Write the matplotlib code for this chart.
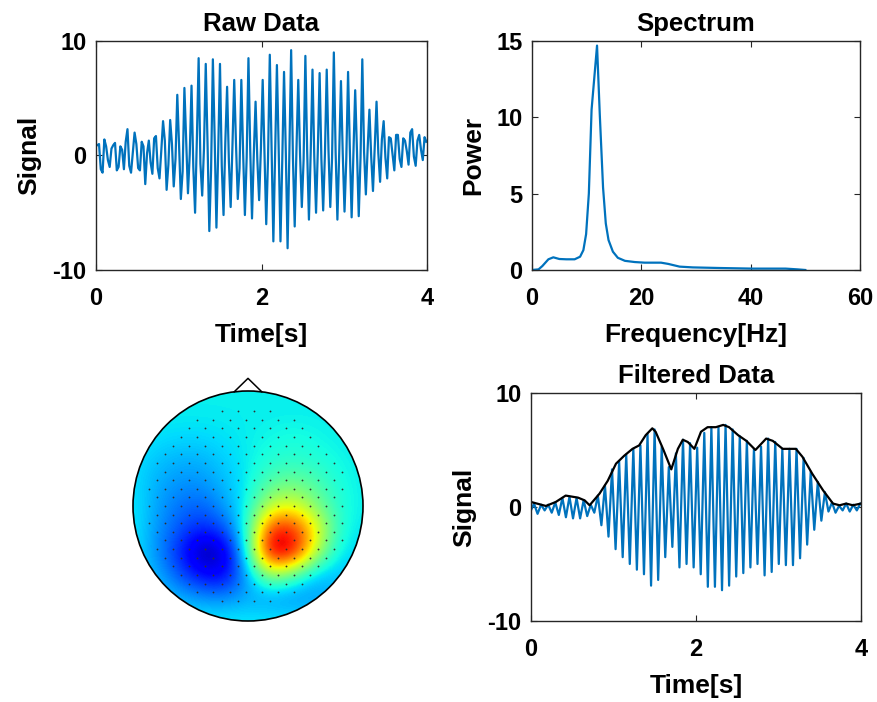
import numpy as np
import matplotlib
matplotlib.use("Agg")
import matplotlib.pyplot as plt
from matplotlib.patches import Circle

plt.rcParams['font.family'] = ['Liberation Sans', 'DejaVu Sans']
plt.rcParams['font.weight'] = 'bold'
plt.rcParams['axes.unicode_minus'] = False

BLUE = '#0072BD'
EDGE = '#262626'

# ---- raw data: samples every 0.0215 s (mid, peak, mid, trough, ...)
raw_t0 = 0.0145
raw_dt = 0.0215
raw_peaks = [1.0, 0.8, 0.9, 0.8, 2.3, 2.0, 1.2, 1.3, 1.7, 3.0, 3.1, 5.3, 5.9, 6.1,
             8.5, 8.0, 8.4, 8.0, 6.0, 6.6, 6.6, 8.5, 4.7, 6.6, 8.8, 7.9, 7.3, 9.2,
             6.6, 8.7, 7.5, 7.2, 7.5, 9.0, 6.5, 7.3, 5.7, 8.4, 4.0, 4.7, 3.0, 1.5,
             1.8, 1.3, 2.3, 1.8, 1.2]
raw_troughs = [-1.5, -1.0, -1.3, -1.2, -1.5, -1.1, -2.5, -1.6, -2.0, -3.0, -2.7,
               -3.8, -3.3, -5.0, -3.5, -6.6, -6.3, -5.2, -4.5, -3.8, -5.2, -5.5,
               -3.9, -6.0, -7.5, -7.5, -8.1, -6.2, -4.5, -5.6, -5.0, -4.8, -4.5,
               -5.6, -4.9, -5.4, -5.3, -3.4, -3.1, -2.3, -2.0, -1.3, -1.0, -0.8,
               -0.9, -0.4]
raw_mids = [0.9, -1.2, 1.4, -0.4, 0.6, 1.1, -1.0, 0.5, 1.2, -0.9, 0.3, 1.0, -1.3,
            0.8, 0.2, -0.6, 1.5, -1.1, 0.4, 1.3, -0.8, 1.0,
            -0.3, 0.9, -1.4, 1.2, 0.1, -1.0, 1.4, -0.7, 0.6, 1.1, -1.2, 1.6, 0.3,
            -0.9, 1.2, -0.5, 0.8, 1.0, -1.1,
            0.3, -0.2, 0.5, 0.1, -0.4, 0.6, 0.2, -0.3, 0.4, 0.0, 0.5, -0.5, 0.3,
            0.2, -0.2, 0.6, 0.1, -0.4, 0.4, 0.3, -0.1, 0.5, -0.3, 0.2, 0.4, -0.2,
            0.3, 0.1,
            0.2, -0.3, 0.5, 0.0, 0.4, -0.2, 0.3, 0.6, -0.1, 0.8, 0.2,
            1.4, -0.2, 1.6, 0.1, 1.8, -0.3, 1.5, 0.4, 2.0, -0.1, 1.3, 0.5, 1.6]

# ---- spectrum
spec_f = [0, 1.2, 1.9, 3.0, 3.9, 5.0, 6.3, 7.8, 8.8, 9.4, 9.9, 10.4, 10.9, 11.4,
          11.9, 12.4, 13.0, 13.5, 14.0, 14.8, 15.7, 17.0, 18.8, 20.6, 23.6, 24.9,
          27.0, 29.4, 34.3, 40.4, 46.4, 48.6, 50]
spec_p = [0, 0.04, 0.26, 0.7, 0.83, 0.72, 0.7, 0.7, 0.87, 1.3, 2.35, 5.0, 10.5,
          12.6, 14.7, 10.2, 5.4, 3.05, 1.96, 1.2, 0.8, 0.6, 0.52, 0.48, 0.48, 0.4,
          0.22, 0.17, 0.13, 0.09, 0.09, 0.04, 0]

# ---- filtered data: samples every 0.043 s (start, peak, trough, peak, ...)
filt_t0 = -0.007
filt_dt = 0.043
filt_start = -0.4
filt_peaks = [0.3, 0.2, 0.2, 0.4, 0.8, 0.9, 0.8, 0.6, 0.2, 1.0, 1.9, 3.3, 4.0, 4.6,
              5.1, 5.4, 6.4, 6.8, 5.3, 3.5, 4.7, 5.9, 5.6, 5.2, 6.5, 7.0, 7.0, 7.2,
              6.8, 6.2, 5.8, 5.1, 5.3, 6.0, 5.7, 5.1, 5.1, 5.1, 4.3, 3.1, 2.2, 1.3,
              0.4, 0.1, 0.3, 0.2, 0.3]
filt_troughs = [-0.6, -0.3, -0.5, -0.7, -0.9, -1.0, -1.0, -0.8, -0.5, -1.6, -2.6,
                -3.7, -4.4, -5.0, -5.5, -5.9, -6.9, -6.4, -4.4, -3.5, -5.3, -5.0,
                -5.3, -5.9, -7.0, -7.0, -7.3, -6.9, -6.1, -5.8, -5.3, -5.0, -6.0,
                -5.7, -5.0, -5.1, -5.1, -4.5, -3.3, -2.0, -1.2, -0.4, -0.5, -0.3,
                -0.4, -0.3]
env_t = [0, 0.18, 0.30, 0.42, 0.57, 0.65, 0.71, 0.83, 0.93, 1.03, 1.13, 1.23, 1.31,
         1.39, 1.47, 1.51, 1.60, 1.70, 1.78, 1.84, 1.90, 1.98, 2.06, 2.14, 2.24,
         2.33, 2.40, 2.51, 2.61, 2.72, 2.85, 2.93, 3.05, 3.21, 3.29, 3.41, 3.54,
         3.66, 3.74, 3.82, 3.90, 4.0]
env_v = [0.44, 0.09, 0.44, 1.0, 0.82, 0.58, 0.15, 1.17, 2.3, 3.8, 4.5, 5.1, 5.4,
         6.3, 6.9, 6.6, 5.1, 3.3, 5.1, 5.9, 5.7, 5.1, 6.6, 7.0, 7.0, 7.2, 7.0, 6.3,
         5.8, 5.0, 6.0, 5.8, 5.1, 5.1, 4.4, 2.9, 1.46, 0.3, 0.15, 0.3, 0.15, 0.3]

# ---- scalp map, normalised jet values on an 11x11 grid (x, y = -1..1, top row y=1)
topo = [
    [0.36, 0.36, 0.36, 0.36, 0.36, 0.36, 0.36, 0.36, 0.36, 0.36, 0.36],
    [0.36, 0.36, 0.36, 0.36, 0.36, 0.36, 0.36, 0.36, 0.36, 0.36, 0.36],
    [0.36, 0.35, 0.34, 0.34, 0.35, 0.36, 0.37, 0.38, 0.37, 0.36, 0.36],
    [0.35, 0.32, 0.30, 0.30, 0.33, 0.36, 0.39, 0.40, 0.39, 0.37, 0.36],
    [0.35, 0.30, 0.27, 0.27, 0.31, 0.36, 0.45, 0.48, 0.44, 0.38, 0.36],
    [0.36, 0.29, 0.24, 0.22, 0.28, 0.37, 0.58, 0.62, 0.50, 0.39, 0.36],
    [0.36, 0.28, 0.21, 0.16, 0.20, 0.39, 0.88, 0.88, 0.65, 0.39, 0.35],
    [0.36, 0.27, 0.17, 0.02, 0.06, 0.37, 1.00, 0.95, 0.58, 0.35, 0.34],
    [0.36, 0.30, 0.21, 0.12, 0.10, 0.29, 0.55, 0.45, 0.32, 0.31, 0.34],
    [0.36, 0.34, 0.30, 0.27, 0.26, 0.29, 0.27, 0.26, 0.27, 0.32, 0.35],
    [0.36, 0.36, 0.36, 0.36, 0.36, 0.36, 0.36, 0.36, 0.36, 0.36, 0.36],
]

TICK_FS = 17
LABEL_FS = 19
TITLE_FS = 18.5


def style_axes(ax):
    for s in ax.spines.values():
        s.set_color(EDGE)
        s.set_linewidth(1.0)
    ax.tick_params(direction='in', length=4, width=0.8, colors=EDGE,
                   top=True, right=True, labelsize=TICK_FS, labelcolor='black')
    ax.tick_params(axis='x', pad=12.5)
    ax.tick_params(axis='y', pad=7)
    for lab in ax.get_xticklabels() + ax.get_yticklabels():
        lab.set_fontweight('bold')


def add_labels(ax, title, xlabel, ylabel):
    ax.set_title(title, fontsize=TITLE_FS, fontweight='bold', pad=7)
    ax.set_xlabel(xlabel, fontsize=LABEL_FS, fontweight='bold', labelpad=9)
    ax.set_ylabel(ylabel, fontsize=LABEL_FS, fontweight='bold', labelpad=8)


fig = plt.figure(figsize=(8.77, 7.02), dpi=100)

# raw
raw = []
for k in range(len(raw_peaks)):
    raw += [raw_mids[2 * k], raw_peaks[k]]
    if k < len(raw_troughs):
        raw += [raw_mids[2 * k + 1], raw_troughs[k]]
raw_t = raw_t0 + raw_dt * np.arange(len(raw))

ax1 = fig.add_axes([0.1095, 0.6154, 0.3774, 0.3262])
ax1.plot(raw_t, raw, color=BLUE, lw=1.6)
ax1.set_xlim(0, 4)
ax1.set_ylim(-10, 10)
ax1.set_xticks([0, 2, 4])
ax1.set_yticks([-10, 0, 10])
style_axes(ax1)
add_labels(ax1, 'Raw Data', 'Time[s]', 'Signal')

# spectrum
ax2 = fig.add_axes([0.6066, 0.6154, 0.3740, 0.3262])
ax2.plot(spec_f, spec_p, color=BLUE, lw=1.6)
ax2.set_xlim(0, 60)
ax2.set_ylim(0, 15)
ax2.set_xticks([0, 20, 40, 60])
ax2.set_yticks([0, 5, 10, 15])
style_axes(ax2)
add_labels(ax2, 'Spectrum', 'Frequency[Hz]', 'Power')

# filtered
filt = [filt_start]
for k in range(len(filt_peaks)):
    filt.append(filt_peaks[k])
    if k < len(filt_troughs):
        filt.append(filt_troughs[k])
filt_t = filt_t0 + filt_dt * np.arange(len(filt))

ax3 = fig.add_axes([0.6055, 0.1154, 0.3763, 0.3248])
ax3.plot(filt_t, filt, color=BLUE, lw=1.6)
ax3.plot(env_t, env_v, color='black', lw=1.6)
ax3.set_xlim(0, 4)
ax3.set_ylim(-10, 10)
ax3.set_xticks([0, 2, 4])
ax3.set_yticks([-10, 0, 10])
style_axes(ax3)
add_labels(ax3, 'Filtered Data', 'Time[s]', 'Signal')

# scalp map
R = 115.0
cx, cy = 248.0, 506.0
half = 1.12 * R
ax4 = fig.add_axes([(cx - half) / 877, 1 - (cy + half) / 702, 2 * half / 877, 2 * half / 702])
ax4.set_xlim(-1.12, 1.12)
ax4.set_ylim(-1.12, 1.12)
ax4.set_aspect('equal')
ax4.axis('off')
img = ax4.imshow(np.array(topo), extent=[-1.1, 1.1, -1.1, 1.1], cmap='jet',
                 vmin=0, vmax=1, interpolation='bicubic', origin='upper')
clip = Circle((0, 0), 1.0, transform=ax4.transData, facecolor='none', edgecolor='none')
ax4.add_patch(clip)
img.set_clip_path(clip)

# electrode layout: staggered rows
rows = np.arange(-0.9, 0.9001, 0.075)
ex, ey = [], []
for j, yy in enumerate(rows):
    xs = np.arange(-1.0, 1.0001, 0.14) + (0.07 if j % 2 else 0.0)
    for xx in xs:
        if xx ** 2 + yy ** 2 < 0.88 ** 2:
            ex.append(xx)
            ey.append(yy)
ax4.plot(ex, ey, 'o', ms=1.3, color='#303030', mew=0)

ax4.add_patch(Circle((0, 0), 1.0, facecolor='none', edgecolor='black', lw=1.2))
ax4.plot([-0.12, 0.0, 0.12], [0.993, 1.11, 0.993], color='black', lw=1.1)

fig.savefig('out.png', dpi=100)
